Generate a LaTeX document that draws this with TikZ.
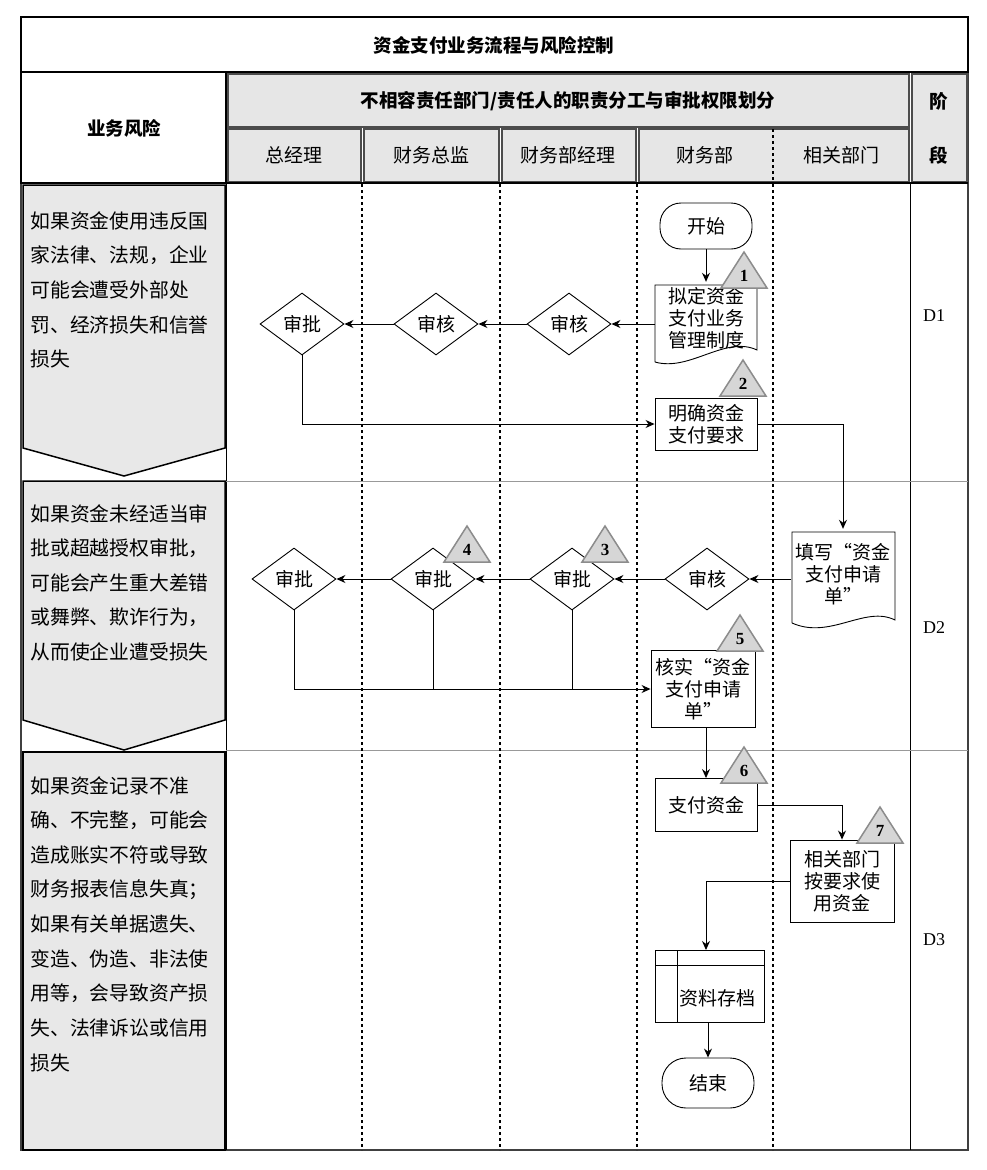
\documentclass[tikz,border=0pt]{standalone}
\usepackage{fontspec}
\setmainfont{Noto Sans CJK SC}
\newfontfamily\serf{Liberation Serif}
\usetikzlibrary{shapes.geometric,arrows.meta}
\definecolor{hdr}{HTML}{E6E6E6}
\definecolor{risk}{HTML}{E8E8E8}
\definecolor{trif}{HTML}{D6D6D6}
\begin{document}
\begin{tikzpicture}[x=1pt,y=-1pt,
  every node/.style={font=\fontsize{19}{22}\selectfont},
  hcell/.style={draw=black!70,fill=hdr,line width=1.2pt},
  box/.style={draw,line width=0.9pt,fill=white,align=center,inner sep=2pt},
  dia/.style={diamond,draw,line width=0.9pt,fill=white,minimum width=84pt,minimum height=62pt,inner sep=0pt,aspect=1.35},
  term/.style={draw,line width=0.9pt,rounded corners=21pt,fill=white,minimum width=92pt,minimum height=46pt},
  trist/.style={draw=black!45,fill=trif,line width=1.5pt},
  arr/.style={-{Stealth[length=9pt,width=8pt]},line width=0.9pt},
  lane/.style={line width=1.8pt,dash pattern=on 3pt off 3pt},
  rtxt/.style={anchor=west,font=\fontsize{19.8}{22}\selectfont},
  bh/.style={font=\fontsize{18.5}{22}\selectfont\bfseries}]
\useasboundingbox (0,0) rectangle (987,1170);
% outer frame and header
\draw[line width=1.5pt,draw=black!75] (21,17) rectangle (968,1150);
\draw[line width=1.2pt] (21,17) rectangle (968,72);
\node[bh] (title) at (494,45) {资金支付业务流程与风险控制};
\draw[line width=1.2pt] (21,72) rectangle (226,183);
\node[bh] (risk) at (124,128) {业务风险};
\draw[hcell] (228,74) rectangle (909,127);
\node[bh] (duty) at (568,101) {不相容责任部门/责任人的职责分工与审批权限划分};
\draw[hcell] (912,74) rectangle (967,182);
\node[bh] (jie) at (939,101) {阶};
\node[bh] (duan) at (939,155) {段};
\draw[hcell] (228,129) rectangle (361,182);
\draw[hcell] (364,129) rectangle (499,182);
\draw[hcell] (502,129) rectangle (636,182);
\draw[hcell] (639,129) rectangle (909,182);
\draw[lane] (773,129) -- (773,182);
\node (c1) at (294,155) {总经理};
\node (c2) at (431,155) {财务总监};
\node (c3) at (568,155) {财务部经理};
\node (c4) at (705,155) {财务部};
\node (c5) at (841,155) {相关部门};
\draw[line width=1.2pt] (21,183) -- (968,183);
% lanes
\draw[line width=1pt] (910,183) -- (910,1150);
\draw[line width=1pt] (226,183) -- (226,1150);
\draw[draw=black!40,line width=0.8pt] (226,481) -- (968,481);
\draw[draw=black!40,line width=0.8pt] (226,750) -- (968,750);
\foreach \x in {362,500,637,773} \draw[lane] (\x,184) -- (\x,1150);
\node[font=\serf\fontsize{18}{21}\selectfont] (d1) at (934,316) {D1};
\node[font=\serf\fontsize{18}{21}\selectfont] (d2) at (934,628) {D2};
\node[font=\serf\fontsize{18}{21}\selectfont] (d3) at (934,940) {D3};
% risk boxes
\draw[fill=risk,line width=1.5pt] (23,185) -- (225,185) -- (225,448) -- (124,476) -- (23,448) -- cycle;
\draw[fill=risk,line width=1.5pt] (23,481) -- (225,481) -- (225,720) -- (124,750) -- (23,720) -- cycle;
\draw[fill=risk,line width=1.5pt] (23,752) rectangle (225,1150);
\foreach \t [count=\i] in {如果资金使用违反国,家法律、法规，企业,可能会遭受外部处,罚、经济损失和信誉,损失}
  \node[rtxt] at (27,221+34.5*\i-34.5) {\t};
\foreach \t [count=\i] in {如果资金未经适当审,批或超越授权审批，,可能会产生重大差错,或舞弊、欺诈行为，,从而使企业遭受损失}
  \node[rtxt] at (27,514+34.5*\i-34.5) {\t};
\foreach \t [count=\i] in {如果资金记录不准,确、不完整，可能会,造成账实不符或导致,财务报表信息失真；,如果有关单据遗失、,变造、伪造、非法使,用等，会导致资产损,失、法律诉讼或信用,损失}
  \node[rtxt] at (27,786+34.6*\i-34.6) {\t};
% D1
\node[term] (start) at (706,226) {开始};
\node[minimum width=102pt,minimum height=72pt,align=center,inner sep=0pt] (draft) at (706,318) {拟定资金\\支付业务\\管理制度};
\draw[line width=0.9pt] (655,362) -- (655,285) -- (757,285) -- (757,350) .. controls (725,335) and (690,372) .. (655,362);
\node[dia] (sh1) at (569,324) {审核};
\node[dia] (sh2) at (436,324) {审核};
\node[dia] (sp1) at (302,324) {审批};
\node[box,minimum width=102pt,minimum height=52pt] (clear) at (706,424) {明确资金\\支付要求};
\draw[arr] (start) -- (draft.north);
\draw[arr] (draft.west |- sh1) -- (sh1);
\draw[arr] (sh1) -- (sh2);
\draw[arr] (sh2) -- (sp1);
\draw[arr] (sp1.south) |- (clear.west);
% D2
\node[minimum width=103pt,minimum height=90pt,align=center,inner sep=0pt] (fill) at (843,574) {填写“资金\\支付申请\\单”};
\draw[line width=0.9pt] (792,623) -- (792,532) -- (895,532) -- (895,620) .. controls (865,605) and (830,640) .. (792,623);
\draw[arr] (clear.east) -| (fill.north);
\node[dia] (sh3) at (707,579) {审核};
\node[dia] (sp2) at (572,579) {审批};
\node[dia] (sp3) at (433,579) {审批};
\node[dia] (sp4) at (294,579) {审批};
\node[box,minimum width=104pt,minimum height=77pt] (check) at (703,689) {核实“资金\\支付申请\\单”};
\draw[arr] (fill.west |- sh3) -- (sh3);
\draw[arr] (sh3) -- (sp2);
\draw[arr] (sp2) -- (sp3);
\draw[arr] (sp3) -- (sp4);
\coordinate (jn) at (433,690);
\coordinate (jn2) at (572,690);
\draw[line width=0.9pt] (sp3.south) -- (jn);
\draw[line width=0.9pt] (sp2.south) -- (jn2);
\draw[arr] (sp4.south) |- (check.west);
% D3
\node[box,minimum width=102pt,minimum height=53pt] (pay) at (706,805) {支付资金};
\draw[arr] (check.south -| pay.north) -- (pay.north);
\node[box,minimum width=104pt,minimum height=82pt] (use) at (842,881) {相关部门\\按要求使\\用资金};
\draw[arr] (pay.east) -| (use.north);
\node[draw,line width=0.9pt,minimum width=109pt,minimum height=72pt,inner sep=0pt] (arch) at (709.5,986) {};
\draw[line width=0.9pt] (655,965) -- (764,965) (677,950) -- (677,1022);
\node (archt) at (717,998) {资料存档};
\draw[arr] (use.west) -| (706,950);
\node[term,minimum height=50pt,rounded corners=24pt] (end) at (708,1083) {结束};
\draw[arr] (708,1022) -- (end.north);
% triangles
\foreach \x/\y/\n in {744/270/1,743/378/2,605/544/3,467/544/4,740/633/5,744/765/6,880/825/7}{
  \draw[trist,shift={(\x,\y)}] (-23,18) -- (0,-18) -- (23,18) -- cycle;
  \node[font=\serf\bfseries\fontsize{17}{21}\selectfont] at (\x,\y+6) {\n};
}
\end{tikzpicture}
\end{document}
